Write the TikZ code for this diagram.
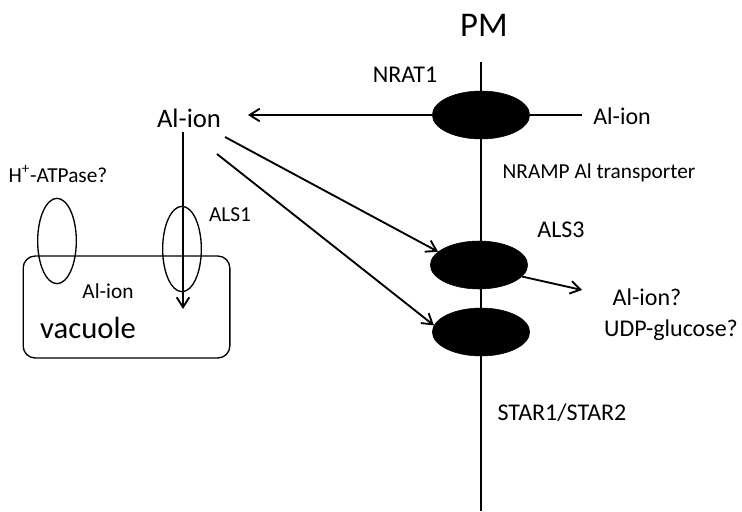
\documentclass[tikz,border=0pt]{standalone}
\usepackage{fontspec}
\setmainfont{Carlito}
\usetikzlibrary{positioning, arrows.meta, shapes.geometric}

\begin{document}
\begin{tikzpicture}[
    x=0.75pt, y=-0.75pt,
    lbl/.style={font=\fontsize{16pt}{19pt}\selectfont, inner sep=0pt},
    midlbl/.style={font=\fontsize{18pt}{21pt}\selectfont, inner sep=0pt},
    biglbl/.style={font=\fontsize{20pt}{24pt}\selectfont, inner sep=0pt},
    vaclbl/.style={font=\fontsize{23pt}{27pt}\selectfont, inner sep=0pt},
    pmlbl/.style={font=\fontsize{26pt}{31pt}\selectfont, inner sep=0pt},
    chan/.style={ellipse, fill=black, draw=black, minimum width=73pt,
                 minimum height=36pt, inner sep=0pt},
    ring/.style={ellipse, draw, line width=1pt, minimum width=29pt,
                 minimum height=64pt, inner sep=0pt},
    vacbox/.style={draw, rounded corners=9pt, line width=1pt,
                   minimum width=155pt, minimum height=76.5pt},
    mem/.style={line width=1.7pt},
    arr/.style={-{Straight Barb[length=7.5pt, width=9.5pt]}, line width=1.4pt},
]
\useasboundingbox (0,0) rectangle (742,511);

%% ── Plasma membrane ─────────────────────────────────────────────────────
\node[pmlbl] (pm) at (484,25) {PM};
\coordinate (pmtop) at (481,62);
\coordinate (pmbot) at (481,511);
\draw[mem] (pmtop) -- (pmbot);

%% ── Transporters on the membrane ────────────────────────────────────────
\node[chan] (nrat) at (481,115) {};
\node[chan] (als3) at (479,265) {};
\node[chan] (star) at (481,332) {};

\node[midlbl] (nratlbl) at (405,75) {NRAT1};
\node[lbl]    (nramp)   at (599,173) {NRAMP Al transporter};
\node[midlbl] (als3lbl) at (561,230) {ALS3};
\node[midlbl] (starlbl) at (562,413) {STAR1/STAR2};

%% ── Outside the cell ────────────────────────────────────────────────────
\node[midlbl, anchor=west] (alout) at (593,116) {Al-ion};
\node[midlbl] (alq)  at (647,297) {Al-ion?};
\node[midlbl] (udp)  at (671,330) {UDP-glucose?};
\coordinate (nratR) at (582,115);
\coordinate (als3R) at (582,290);

\draw[mem] (nrat.east) -- (nratR);
\draw[arr] (als3.-15) -- (als3R);

%% ── Cytosol ─────────────────────────────────────────────────────────────
\node[biglbl] (alin) at (189,118) {Al-ion};
\coordinate (alinR) at (248,115);
\coordinate (d1) at (225,137);
\coordinate (d2) at (217,154);
\coordinate (vtop) at (183,132);
\coordinate (vtip) at (183,309);

\draw[arr] (nrat.west) -- (alinR);
\draw[arr] (vtop) -- (vtip);
\draw[arr] (d1) -- (als3.162);
\draw[arr] (d2) -- (star.172);

%% ── Vacuole ─────────────────────────────────────────────────────────────
\node[vacbox] (vac) at (126.5,307) {};
\node[ring] (als1) at (182,249) {};
\node[ring] (atp)  at (57,241) {};

\node[lbl]    (als1lbl) at (230,215) {ALS1};
\node[lbl]    (atplbl)  at (58,174) {H\textsuperscript{+}-ATPase?};
\node[lbl]    (alvac)   at (108,291) {Al-ion};
\node[vaclbl] (vaclbl)  at (88,328) {vacuole};

\end{tikzpicture}
\end{document}
